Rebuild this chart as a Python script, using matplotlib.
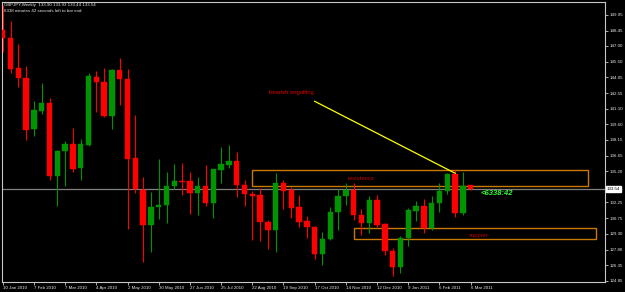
import matplotlib
matplotlib.use('Agg')
import matplotlib.pyplot as plt
from matplotlib.patches import Rectangle
import matplotlib.transforms as mtransforms

# ---------------- data (GBPJPY weekly) ----------------
opens = [148.50, 147.78, 144.92, 144.01, 139.17, 140.90, 141.62, 134.77, 137.13, 137.76,
         135.52, 137.66, 144.10, 143.57, 140.43, 144.73, 143.88, 136.44, 133.45, 130.12,
         131.82, 132.01, 133.80, 134.30, 134.27, 133.11, 133.80, 132.20, 135.31, 135.78,
         136.16, 133.89, 133.05, 132.95, 130.41, 129.62, 134.08, 133.45, 131.82, 130.50,
         129.91, 127.39, 128.80, 131.38, 132.86, 133.42, 131.07, 130.34, 132.48, 130.22,
         127.67, 126.19, 128.87, 131.44, 131.91, 129.81, 132.23, 133.36, 134.90, 131.23,
         133.90]
highs = [150.90, 149.35, 147.18, 145.11, 141.81, 143.54, 142.12, 137.19, 138.07, 139.29,
         138.23, 144.42, 144.64, 144.95, 144.80, 145.89, 144.83, 140.49, 134.68, 133.21,
         136.34, 135.09, 135.87, 135.97, 135.15, 134.62, 135.78, 135.43, 137.50, 137.69,
         136.98, 134.37, 133.30, 133.58, 130.60, 135.00, 134.37, 133.68, 132.95, 130.97,
         130.03, 129.49, 131.79, 133.49, 134.11, 134.11, 131.60, 132.86, 132.95, 130.34,
         127.93, 129.12, 131.70, 132.41, 132.57, 132.86, 134.11, 135.05, 135.31, 135.15,
         133.93]
lows = [146.43, 144.48, 143.10, 138.14, 138.54, 140.59, 134.37, 131.91, 133.83, 135.09,
        134.37, 137.57, 140.80, 140.27, 139.20, 141.43, 129.72, 133.11, 126.67, 127.55,
        130.69, 130.28, 133.49, 132.95, 131.16, 131.09, 131.91, 130.75, 134.11, 135.47,
        132.73, 131.91, 128.74, 128.62, 127.83, 127.58, 131.63, 130.75, 129.96, 128.87,
        126.95, 126.33, 128.71, 129.65, 132.01, 130.60, 129.18, 129.40, 129.91, 127.30,
        125.35, 125.63, 128.17, 130.50, 129.34, 129.65, 131.38, 133.02, 130.91, 131.04,
        133.44]
closes = [147.78, 144.83, 144.01, 139.11, 140.99, 141.62, 134.77, 137.13, 137.76, 135.43,
          137.76, 144.17, 143.57, 140.43, 144.73, 143.86, 136.37, 133.49, 130.12, 131.82,
          132.04, 133.80, 134.27, 134.18, 133.14, 133.80, 132.20, 135.37, 135.87, 136.16,
          133.89, 133.05, 132.89, 130.44, 129.62, 134.08, 133.36, 131.75, 130.44, 129.96,
          127.39, 128.80, 131.35, 132.86, 133.42, 131.07, 130.34, 132.48, 130.12, 127.65,
          126.19, 128.87, 131.54, 131.91, 129.81, 132.23, 133.36, 134.90, 131.23, 133.83,
          133.54]

date_labels = ["10 Jan 2010", "7 Feb 2010", "7 Mar 2010", "4 Apr 2010", "2 May 2010",
               "30 May 2010", "27 Jun 2010", "25 Jul 2010", "22 Aug 2010", "19 Sep 2010",
               "17 Oct 2010", "14 Nov 2010", "12 Dec 2010", "9 Jan 2011", "6 Feb 2011",
               "6 Mar 2011"]
date_label_step = 4

price_ticks = [149.95, 148.45, 147.00, 145.50, 144.05, 142.55, 141.10, 139.60, 138.15,
               136.65, 135.20, 133.70, 132.25, 130.75, 129.30, 127.80, 126.35, 124.85]

current_price = 133.54
resistance_zone = (32.0, 75.1, 133.80, 135.28)   # x0, x1, y0, y1
support_zone = (45.0, 76.1, 128.77, 129.81)
engulf_line = ((40.0, 141.78), (58.0, 135.0))

title_line1 = "GBPJPY,Weekly  133.90 133.93 133.44 133.54"
title_line2 = "6338 minutes 42 seconds left to bar end"
timer_text = "<6338:42"

# ---------------- figure ----------------
W, H = 625, 292
fig = plt.figure(figsize=(W / 100, H / 100), dpi=100, facecolor='black')
ax_left, ax_right, ax_top, ax_bot = 1.7, 605.0, 2.0, 282.3
ax = fig.add_axes([ax_left / W, (H - ax_bot) / H, (ax_right - ax_left) / W, (ax_bot - ax_top) / H])
ax.set_facecolor('black')

FONT = 'Liberation Sans'
bull = '#009400'
bear = '#FF0000'

n = len(opens)
xs = list(range(n))
bw = 0.68
for i in xs:
    o, h, l, c = opens[i], highs[i], lows[i], closes[i]
    col = bull if c >= o else bear
    ax.vlines(i, l, h, color=col, linewidth=0.8, zorder=3)
    bottom = min(o, c)
    height = max(abs(c - o), 0.06)
    ax.bar(i, height, bottom=bottom, width=bw, color=col, edgecolor=col,
           linewidth=0.3, zorder=4)

ax.set_xlim(-0.13, 77.22)
ax.set_ylim(124.72, 151.14)

# current price line
ax.axhline(current_price, color='#808080', linewidth=0.9, zorder=2)

# zones
rx0, rx1, ry0, ry1 = resistance_zone
ax.add_patch(Rectangle((rx0, ry0), rx1 - rx0, ry1 - ry0, fill=False,
                       edgecolor='#C87A00', linewidth=1.0, zorder=2, clip_on=False))
sx0, sx1, sy0, sy1 = support_zone
ax.add_patch(Rectangle((sx0, sy0), sx1 - sx0, sy1 - sy0, fill=False,
                       edgecolor='#C87A00', linewidth=1.0, zorder=2, clip_on=False))

# annotations
ax.text(46.0, 134.53, "resistance", color='#C00000', fontsize=4.2, family=FONT,
        ha='center', va='center', zorder=5)
ax.text(61.0, 129.13, "support", color='#C00000', fontsize=4.2, family=FONT,
        ha='center', va='center', zorder=5)
ax.text(37.0, 142.61, "bearish engulfing", color='#E00000', fontsize=4.2, family=FONT,
        ha='center', va='center', zorder=5)
(lx0, ly0), (lx1, ly1) = engulf_line
ax.plot([lx0, lx1], [ly0, ly1], color='#FFFF00', linewidth=0.9, zorder=5)
ax.text(61.3, 133.05, timer_text, color='#33FF33', fontsize=5.5, family=FONT,
        fontweight='bold', fontstyle='italic', ha='left', va='center', zorder=5)

# title texts
fig.text(4 / W, 1 - 5.0 / H, title_line1, color='#E8E8E8', fontsize=3.2, family=FONT,
         ha='left', va='center')
fig.text(4 / W, 1 - 10.7 / H, title_line2, color='#E8E8E8', fontsize=3.2, family=FONT,
         ha='left', va='center')

# spines
for s in ['left', 'right', 'top', 'bottom']:
    ax.spines[s].set_color('#C8C8C8')
    ax.spines[s].set_linewidth(0.8)

# axes ticks (the tick label at the current price is covered by the price box)
ax.yaxis.tick_right()
ax.set_yticks(price_ticks)
ax.set_yticklabels(["" if abs(p - current_price) < 0.5 else f"{p:.2f}" for p in price_ticks])
ax.tick_params(axis='y', colors='#C8C8C8', labelcolor='#E8E8E8', length=2, width=0.6,
               labelsize=3.2, pad=1.5, direction='out')
ax.set_xticks([i * date_label_step for i in range(len(date_labels))])
ax.set_xticklabels(date_labels, ha='left')
ax.tick_params(axis='x', colors='#C8C8C8', labelcolor='#E8E8E8', length=2, width=0.6,
               labelsize=3.2, pad=1.0, direction='out')
for lab in ax.get_xticklabels() + ax.get_yticklabels():
    lab.set_family(FONT)

# current price box on the axis
trans = mtransforms.blended_transform_factory(ax.transAxes, ax.transData)
ax.text(1.003, current_price, f"{current_price:.2f}", transform=trans, color='black',
        fontsize=3.2, family=FONT, ha='left', va='center', zorder=10, clip_on=False,
        bbox=dict(boxstyle='square,pad=0.25', facecolor='white', edgecolor='white'))

fig.savefig('out.png', dpi=100, facecolor='black')
